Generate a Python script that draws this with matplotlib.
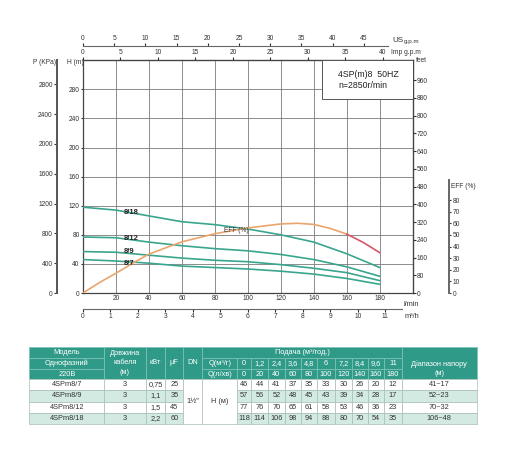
import matplotlib
matplotlib.use("Agg")
import matplotlib.pyplot as plt
from matplotlib.patches import Rectangle

plt.rcParams['font.family'] = ['Liberation Sans', 'DejaVu Sans']

FLOW_LMIN = [0, 20, 40, 60, 80, 100, 120, 140, 160, 180]
FLOW_M3H = ["0", "1,2", "2,4", "3,6", "4,8", "6", "7,2", "8,4", "9,6", "11"]
MODELS = ["4SPm8/7", "4SPm8/9", "4SPm8/12", "4SPm8/18"]
CURVE_NAMES = ["8/7", "8/9", "8/12", "8/18"]
HEAD_87 = [46, 44, 41, 37, 35, 33, 30, 26, 20, 12]
HEAD_89 = [57, 56, 52, 48, 45, 43, 39, 34, 28, 17]
HEAD_812 = [77, 76, 70, 65, 61, 58, 53, 46, 36, 23]
HEAD_818 = [118, 114, 106, 98, 94, 88, 80, 70, 54, 35]
HEADS = [HEAD_87, HEAD_89, HEAD_812, HEAD_818]
CABLE_M = ["3", "3", "3", "3"]
POWER_KW = ["0,75", "1,1", "1,5", "2,2"]
CAP_UF = ["25", "35", "45", "60"]
HEAD_RANGE = ["41~17", "52~23", "70~32", "106~48"]

EFF_FLOW = [0, 10, 20, 30, 40, 60, 80, 100, 120, 130, 140, 150, 160]
EFF_VAL = [0, 9, 17, 25.5, 33.5, 44, 51, 56, 59.4, 60, 59, 55.5, 50.7]
EFF_TAIL_FLOW = [160, 170, 180]
EFF_TAIL_VAL = [50.7, 43.5, 34.7]

W, H = 512, 449
TEAL = "#3aa58f"
HDR = "#2f9a88"
LIGHT = "#d3eae3"
TXT = "#333333"
FS = 4.8

fig = plt.figure(figsize=(W / 100, H / 100), dpi=100)

ax = fig.add_axes([83 / W, 1 - 293 / H, 329.7 / W, 232.7 / H])
ax.set_xlim(0, 200)
ax.set_ylim(0, 320)
ax.set_xticks(range(20, 181, 20))
ax.set_yticks(range(0, 281, 40))
ax.tick_params(axis='x', length=0, pad=1.5, labelsize=FS, colors=TXT)
ax.tick_params(axis='y', length=1.5, pad=1, labelsize=FS, colors=TXT)
ax.grid(True, color="#7a7a7a", lw=0.6)
for s in ax.spines.values():
    s.set_color("#444444")
    s.set_linewidth(0.9)

for name, head in zip(CURVE_NAMES, HEADS):
    ax.plot(FLOW_LMIN, head, color=TEAL, lw=1.2, zorder=3)

EFF_K = 0.7272 / 1.1625  # EFF units per metre of head
ax.plot(EFF_FLOW, [e / EFF_K for e in EFF_VAL], color="#eaa56c", lw=1.2, zorder=3)
ax.plot(EFF_TAIL_FLOW, [e / EFF_K for e in EFF_TAIL_VAL], color="#d6566a", lw=1.2, zorder=3)

label_pos = {"8/18": 111, "8/12": 75, "8/9": 56.5, "8/7": 41}
for name in CURVE_NAMES:
    ax.text(25, label_pos[name], name, fontsize=5.5, fontweight='bold',
            color="#222222", va='center', ha='left', zorder=4)
ax.text(85.5, 86.6, "EFF (%)", fontsize=4.8, color="#333333", va='center', ha='left', zorder=4)

ax.add_patch(Rectangle((0.724, 0.8337), 0.276, 0.1663, transform=ax.transAxes,
                       facecolor='white', edgecolor='#555555', lw=0.7, zorder=5))
ax.text(0.7749, 0.937, "4SP(m)8  50HZ", transform=ax.transAxes, fontsize=6.3,
        color="#222222", va='center', zorder=6)
ax.text(0.7749, 0.8896, "n=2850r/min", transform=ax.transAxes, fontsize=6.3,
        color="#222222", va='center', zorder=6)

# extra scales
p_ax = ax.secondary_yaxis(-0.0789, functions=(lambda h: h * 9.76, lambda p: p / 9.76))
p_ax.set_yticks(range(0, 2801, 400))
p_ax.tick_params(length=2, pad=1, labelsize=FS, colors=TXT)
p_ax.spines['left'].set_linewidth(1.4)
p_ax.spines['left'].set_color("#555555")

ft_ax = ax.secondary_yaxis('right', functions=(lambda h: h * 3.2808, lambda f: f / 3.2808))
ft_ax.set_yticks(range(0, 961, 80))
ft_ax.tick_params(length=2, pad=1, labelsize=FS, colors=TXT)

eff_ax = ax.secondary_yaxis(1.110, functions=(lambda h: h * EFF_K, lambda e: e / EFF_K))
eff_ax.set_yticks(range(0, 81, 10))
eff_ax.tick_params(length=1.5, pad=1, labelsize=FS, colors=TXT)
eff_ax.spines['right'].set_bounds(0, 97.2)
eff_ax.spines['right'].set_linewidth(1.4)
eff_ax.spines['right'].set_color("#666666")

imp_ax = ax.secondary_xaxis('top', functions=(lambda q: q / 4.54609, lambda g: g * 4.54609))
imp_ax.set_xticks(range(0, 41, 5))
imp_ax.tick_params(length=2, pad=1, labelsize=FS, colors=TXT)

us_ax = ax.secondary_xaxis(1.0614, functions=(lambda q: q / 3.78541, lambda g: g * 3.78541))
us_ax.set_xticks(range(0, 46, 5))
us_ax.tick_params(length=2, pad=1, labelsize=FS, colors=TXT)
us_ax.spines['top'].set_bounds(0, 185 / 3.78541)
us_ax.spines['top'].set_color("#666666")

m3_ax = ax.secondary_xaxis(-0.070, functions=(lambda q: q * 0.06, lambda m: m / 0.06))
m3_ax.set_xticks(range(0, 12))
m3_ax.tick_params(length=2, pad=1, labelsize=FS, colors=TXT)
m3_ax.spines['bottom'].set_bounds(0, 11.6)
m3_ax.spines['bottom'].set_color("#666666")

def ftext(px, py, s, size=FS, **kw):
    fig.text(px / W, 1 - py / H, s, fontsize=size, color=TXT, va='center', **kw)

ftext(33, 62, "P (KPa)")
ftext(67, 62, "H (m)")
ftext(416, 61, "feet")
ftext(392, 40, "US", size=5.8)
ftext(403.5, 41, "g.p.m", size=4.5)
ftext(391, 52, "Imp g.p.m", size=4.8)
ftext(403, 304, "l/min", size=5.3)
ftext(405, 317, "m³/h", size=5.3)
ftext(451, 187, "EFF (%)", size=4.8)

# table
tab = fig.add_axes([0, 0, 1, 1])
tab.set_xlim(0, W)
tab.set_ylim(H, 0)
tab.axis('off')

X = [29.3, 104.3, 145.7, 165.3, 183.3, 202.3, 237, 251, 268, 284.7, 301,
     316.7, 335.3, 351.7, 367.7, 384.3, 401.7, 476.7]
Y = [346.7, 357.7, 368.7, 379.3, 390.4, 401.5, 412.6, 423.7]
TS = 5.3

def cell(c0, c1, r0, r1, fc, text="", color=TXT, ec="#a8bdb8"):
    x0, x1, y0, y1 = X[c0], X[c1], Y[r0], Y[r1]
    tab.add_patch(Rectangle((x0, y0), x1 - x0, y1 - y0, facecolor=fc,
                            edgecolor=ec, lw=0.5))
    if text:
        tab.text((x0 + x1) / 2, (y0 + y1) / 2, text, ha='center', va='center',
                 fontsize=TS, color=color, linespacing=1.55)

hec = "#7fc2b6"
cell(0, 1, 0, 1, HDR, "Модель", "white", hec)
cell(0, 1, 1, 2, HDR, "Однофазний", "white", hec)
cell(0, 1, 2, 3, HDR, "220В", "white", hec)
cell(1, 2, 0, 3, HDR, "Довжина\nкабеля\n(м)", "white", hec)
cell(2, 3, 0, 3, HDR, "кВт", "white", hec)
cell(3, 4, 0, 3, HDR, "µF", "white", hec)
cell(4, 5, 0, 3, HDR, "DN", "white", hec)
cell(5, 16, 0, 1, HDR, "Подача (м³/год.)", "white", hec)
cell(5, 6, 1, 2, HDR, "Q(м³/г)", "white", hec)
cell(5, 6, 2, 3, HDR, "Q(л/хв)", "white", hec)
for i in range(len(FLOW_LMIN)):
    cell(6 + i, 7 + i, 1, 2, HDR, FLOW_M3H[i], "white", hec)
    cell(6 + i, 7 + i, 2, 3, HDR, str(FLOW_LMIN[i]), "white", hec)
cell(16, 17, 0, 3, HDR, "", "white", hec)
tab.text((X[16] + X[17]) / 2, (Y[1] + Y[3]) / 2, "Діапазон напору\n(м)", ha='center',
         va='center', fontsize=TS, color="white", linespacing=1.55)

for r in range(4):
    fc = "white" if r % 2 == 0 else LIGHT
    cell(0, 1, 3 + r, 4 + r, fc, MODELS[r])
    cell(1, 2, 3 + r, 4 + r, fc, CABLE_M[r])
    cell(2, 3, 3 + r, 4 + r, fc, POWER_KW[r])
    cell(3, 4, 3 + r, 4 + r, fc, CAP_UF[r])
    for i, v in enumerate(HEADS[r]):
        cell(6 + i, 7 + i, 3 + r, 4 + r, fc, str(v))
    cell(16, 17, 3 + r, 4 + r, fc, HEAD_RANGE[r])
cell(4, 5, 3, 7, "white", "1½\"")
cell(5, 6, 3, 7, "white", "H (м)")

fig.savefig("out.png", dpi=100)
